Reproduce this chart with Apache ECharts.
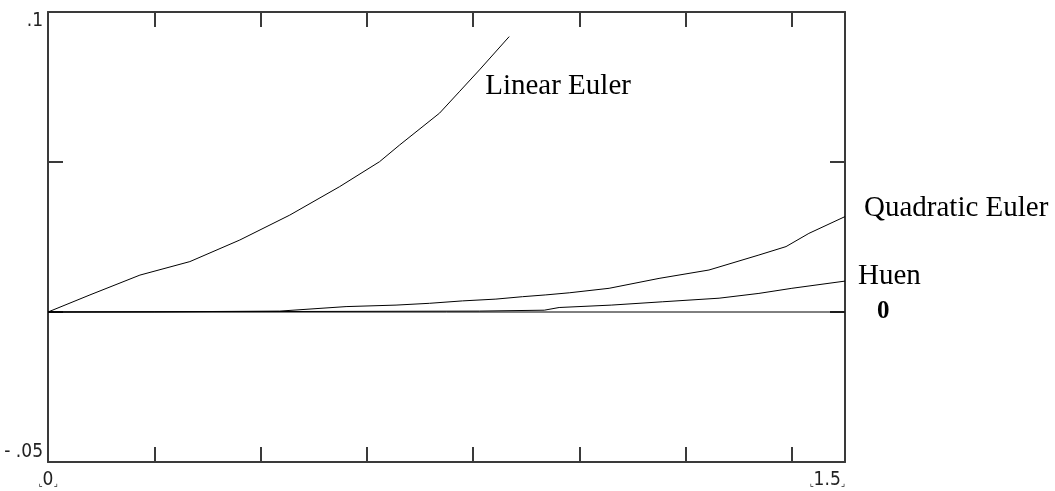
<!DOCTYPE html>
<html>
<head>
<meta charset="utf-8">
<script src="https://cdn.jsdelivr.net/npm/echarts@6/dist/echarts.min.js"></script>
<style>html,body{margin:0;padding:0;background:#fff}#c{width:1055px;height:491px}</style>
</head>
<body>
<div id="c"></div>
<script>
// Data: [x, y]
var linearEuler = [[0,0],[0.079,0.0057],[0.173,0.0123],[0.267,0.0168],[0.361,0.024],[0.455,0.0323],[0.549,0.0418],[0.624,0.0501],[0.662,0.0557],[0.737,0.0663],[0.774,0.0734],[0.812,0.0807],[0.868,0.0918]];
var quadraticEuler = [[0,0],[0.2,0.00005],[0.436,0.0003],[0.561,0.0018],[0.655,0.0023],[0.718,0.0029],[0.78,0.0037],[0.843,0.0043],[0.893,0.0051],[0.937,0.0057],[0.981,0.0064],[1.056,0.0079],[1.15,0.0112],[1.244,0.014],[1.338,0.019],[1.389,0.0218],[1.432,0.0262],[1.5,0.0318]];
var huen = [[0,0],[0.812,0.0003],[0.934,0.0006],[0.962,0.0015],[1.06,0.0023],[1.156,0.0034],[1.263,0.0046],[1.338,0.0062],[1.4,0.0079],[1.5,0.0103]];
var zeroLine = [[0,0],[1.5,0]];
var seriesNames = ['Linear Euler','Quadratic Euler','Huen','0'];
var xLimits = [0, 1.5];
var yLimits = [-0.05, 0.1];
var xTickLabels = {min:'0', max:'1.5'};
var yTickLabels = {min:'- .05', max:'.1'};

var axisColor = '#3a3a3a';
var chart = echarts.init(document.getElementById('c'), null, {renderer:'canvas'});
function near(a,b){return Math.abs(a-b)<1e-9;}
var tickFont = 'DejaVu Sans Condensed';
var serif = 'Liberation Serif';
function mkLine(name, data, label){
  return {type:'line', name:name, data:data, showSymbol:false, symbol:'none', smooth:false,
    lineStyle:{color:'#000', width:1}, silent:true, animation:false, clip:false,
    endLabel:label};
}
var hookRich = {h:{fontFamily:'DejaVu Sans', fontSize:9, color:'#222', padding:[6,0,0,0]}};
chart.setOption({
  animation:false,
  grid:{left:48, right:210, top:12, bottom:29, containLabel:false},
  xAxis:[{
    type:'value', position:'bottom', min:xLimits[0], max:xLimits[1], interval:0.2,
    axisLine:{show:true, onZero:false, lineStyle:{color:axisColor, width:2}},
    axisTick:{show:true, inside:true, length:15, lineStyle:{color:axisColor, width:2}},
    splitLine:{show:false},
    axisLabel:{margin:9, showMinLabel:true, showMaxLabel:true, alignMinLabel:'center', alignMaxLabel:'right',
      fontFamily:tickFont, fontSize:19, color:'#222', rich:hookRich,
      formatter:function(v){ if(near(v,xLimits[0])) return '{h|\u231e}'+xTickLabels.min+'{h|\u231f}'; if(near(v,xLimits[1])) return '{h|\u231e}'+xTickLabels.max+'{h|\u231f}'; return ''; }}
  },{
    type:'value', position:'top', min:xLimits[0], max:xLimits[1], interval:0.2,
    axisLine:{show:true, onZero:false, lineStyle:{color:axisColor, width:2}},
    axisTick:{show:true, inside:true, length:15, lineStyle:{color:axisColor, width:2}},
    splitLine:{show:false}, axisLabel:{show:false}
  }],
  yAxis:[{
    type:'value', position:'left', min:yLimits[0], max:yLimits[1], interval:0.05,
    axisLine:{show:true, onZero:false, lineStyle:{color:axisColor, width:2}},
    axisTick:{show:true, inside:true, length:15, lineStyle:{color:axisColor, width:2}},
    splitLine:{show:false},
    axisLabel:{margin:5, showMinLabel:true, showMaxLabel:true, verticalAlignMinLabel:'bottom', verticalAlignMaxLabel:'top',
      fontFamily:tickFont, fontSize:19, color:'#222',
      formatter:function(v){ if(near(v,yLimits[0])) return yTickLabels.min; if(near(v,yLimits[1])) return yTickLabels.max; return ''; }}
  },{
    type:'value', position:'right', min:yLimits[0], max:yLimits[1], interval:0.05,
    axisLine:{show:true, onZero:false, lineStyle:{color:axisColor, width:2}},
    axisTick:{show:true, inside:true, length:15, lineStyle:{color:axisColor, width:2}},
    splitLine:{show:false}, axisLabel:{show:false}
  }],
  series:[
    mkLine(seriesNames[0], linearEuler, {show:true, formatter:seriesNames[0], distance:0, offset:[-24,50], fontFamily:serif, fontSize:29, color:'#000'}),
    mkLine(seriesNames[1], quadraticEuler, {show:true, formatter:seriesNames[1], distance:0, offset:[19,-8], fontFamily:serif, fontSize:29, color:'#000'}),
    mkLine(seriesNames[2], huen, {show:true, formatter:seriesNames[2], distance:0, offset:[13,-5], fontFamily:serif, fontSize:29, color:'#000'}),
    mkLine(seriesNames[3], zeroLine, {show:true, formatter:seriesNames[3], distance:0, offset:[32,0], fontFamily:serif, fontSize:25, fontWeight:'bold', color:'#000'})
  ]
});
</script>
</body>
</html>
